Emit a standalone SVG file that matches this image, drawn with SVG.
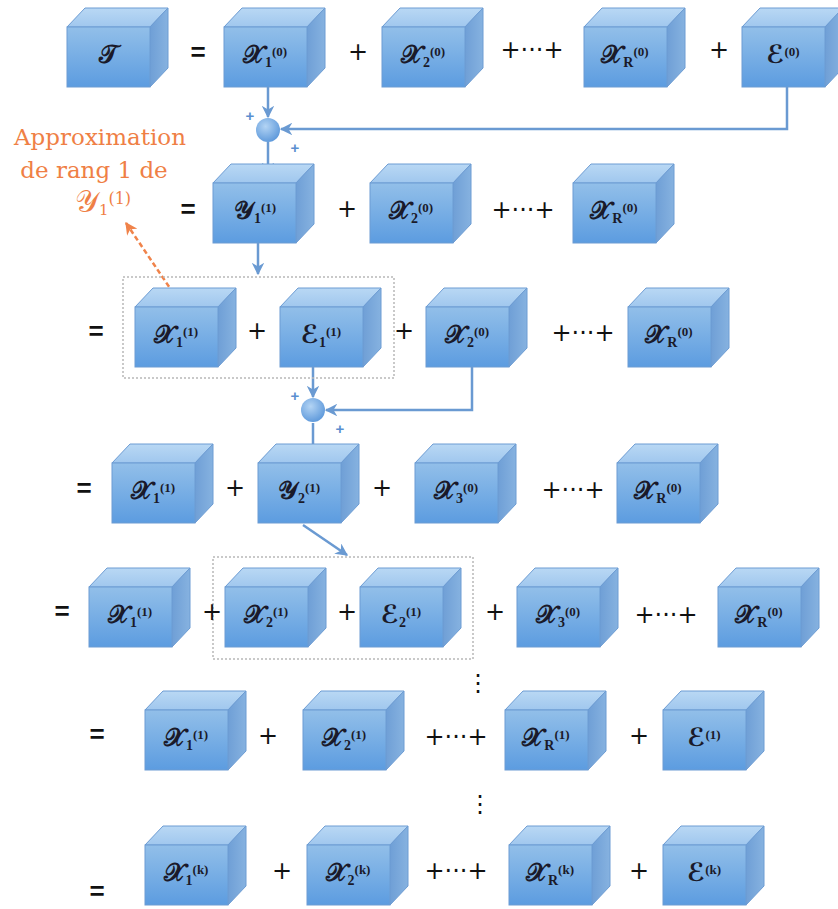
<svg xmlns="http://www.w3.org/2000/svg" xmlns:xlink="http://www.w3.org/1999/xlink" width="838" height="909" viewBox="0 0 838 909">
<defs>
<linearGradient id="gFront" x1="0" y1="0" x2="0" y2="1">
<stop offset="0" stop-color="#92bfe9"/><stop offset="1" stop-color="#5c9ce0"/>
</linearGradient>
<linearGradient id="gTop" x1="0" y1="0" x2="0" y2="1">
<stop offset="0" stop-color="#b9d8f4"/><stop offset="1" stop-color="#a0c7ee"/>
</linearGradient>
<linearGradient id="gSide" x1="0" y1="0" x2="1" y2="0">
<stop offset="0" stop-color="#6f9fd6"/><stop offset="1" stop-color="#86b2e0"/>
</linearGradient>
<radialGradient id="gJunc" cx="0.4" cy="0.35" r="0.7">
<stop offset="0" stop-color="#b3d4f4"/><stop offset="1" stop-color="#5b97da"/>
</radialGradient>
<g id="cube">
<polygon points="0,0 18,-19 101,-19 83,0" fill="url(#gTop)" stroke="#6d9cd3" stroke-width="1"/>
<polygon points="83,0 101,-19 101,41 83,60" fill="url(#gSide)" stroke="#6d9cd3" stroke-width="1"/>
<rect x="0" y="0" width="83" height="60" fill="url(#gFront)" stroke="#6d9cd3" stroke-width="1"/>
</g>
<marker id="arr" viewBox="0 0 10 10" refX="9" refY="5" markerWidth="5" markerHeight="5" orient="auto" markerUnits="strokeWidth">
<path d="M0,0 L10,5 L0,10 L3,5 Z" fill="#6a9ad2"/>
</marker>
<marker id="arrO" viewBox="0 0 10 10" refX="9" refY="5" markerWidth="5" markerHeight="5" orient="auto" markerUnits="strokeWidth">
<path d="M0,0 L10,5 L0,10 L3,5 Z" fill="#f0834a"/>
</marker>
</defs>
<style>
.lbl{font-family:"DejaVu Serif","DejaVu Sans",serif;font-size:25px;font-weight:bold;fill:#1a1a2a}
.sub{font-family:"Liberation Serif",serif;font-size:14px;font-weight:bold}
.sup{font-family:"Liberation Serif",serif;font-size:13px;font-weight:bold}
.op{font-family:"DejaVu Sans",sans-serif;font-size:24px;fill:#111}
.eq{font-family:"Liberation Sans",Arial,sans-serif;font-size:26px;font-weight:bold;fill:#111}
.jp{font-family:"Liberation Sans",Arial,sans-serif;font-size:15px;font-weight:bold;fill:#5b8fd0}
.con{fill:none;stroke:#6a9ad2;stroke-width:2.5}
.box{fill:none;stroke:#b8b8b8;stroke-width:1.5;stroke-dasharray:2 2}
.orange{font-family:"DejaVu Serif",serif;font-size:23px;fill:#ef7f45}
</style>

<!-- connectors -->
<g id="connectors">
<line class="con" x1="268" y1="86" x2="268" y2="117" marker-end="url(#arr)"/>
<polyline class="con" points="787,86 787,129 281,129" marker-end="url(#arr)"/>
<line class="con" x1="268" y1="142" x2="268" y2="174" marker-end="url(#arr)"/>
<line class="con" x1="258" y1="243" x2="258" y2="274" marker-end="url(#arr)"/>
<line x1="178" y1="300" x2="126" y2="223" fill="none" stroke="#f0834a" stroke-width="2.5" stroke-dasharray="5 3" marker-end="url(#arrO)"/>
<line class="con" x1="313" y1="367" x2="313" y2="397" marker-end="url(#arr)"/>
<polyline class="con" points="472,367 472,410 326,410" marker-end="url(#arr)"/>
<line class="con" x1="313" y1="423" x2="313" y2="455" marker-end="url(#arr)"/>
<line class="con" x1="303" y1="525" x2="347" y2="555" marker-end="url(#arr)"/>
<rect class="box" x="123" y="277" width="271" height="101"/>
<rect class="box" x="213" y="557" width="260" height="102"/>
</g>

<!-- junctions -->
<g id="junction1">
<circle cx="268" cy="130" r="12" fill="url(#gJunc)"/>
<text class="jp" x="250" y="115" text-anchor="middle" dominant-baseline="central">+</text>
<text class="jp" x="295" y="147" text-anchor="middle" dominant-baseline="central">+</text>
</g>
<g id="junction2">
<circle cx="313" cy="410" r="12" fill="url(#gJunc)"/>
<text class="jp" x="295" y="395" text-anchor="middle" dominant-baseline="central">+</text>
<text class="jp" x="340" y="428" text-anchor="middle" dominant-baseline="central">+</text>
</g>

<!-- annotation -->
<g id="annotation">
<text class="orange" x="100" y="145" text-anchor="middle">Approximation</text>
<text class="orange" x="94" y="178" text-anchor="middle">de rang 1 de</text>
<text class="orange" x="103" y="212" text-anchor="middle"><tspan font-size="30">𝒴</tspan><tspan font-size="15" dy="3">1</tspan><tspan font-size="16" dy="-11">(1)</tspan></text>
</g>

<!-- Row 1 -->
<g id="r1-T"><use xlink:href="#cube" x="67" y="27"/><text class="lbl" x="108" y="63" text-anchor="middle">𝒯</text></g>
<g id="r1-X1"><use xlink:href="#cube" x="224" y="27"/><text class="lbl" x="265" y="63" text-anchor="middle">𝒳<tspan class="sub" dy="4">1</tspan><tspan class="sup" dy="-11">(0)</tspan></text></g>
<g id="r1-X2"><use xlink:href="#cube" x="382" y="27"/><text class="lbl" x="423" y="63" text-anchor="middle">𝒳<tspan class="sub" dy="4">2</tspan><tspan class="sup" dy="-11">(0)</tspan></text></g>
<g id="r1-XR"><use xlink:href="#cube" x="584" y="27"/><text class="lbl" x="625" y="63" text-anchor="middle">𝒳<tspan class="sub" dy="4">R</tspan><tspan class="sup" dy="-11">(0)</tspan></text></g>
<g id="r1-E"><use xlink:href="#cube" x="742" y="27"/><text class="lbl" x="783" y="63" text-anchor="middle">ℰ<tspan class="sup" dy="-7">(0)</tspan></text></g>
<g id="r1-ops">
<text class="eq" x="198" y="52" text-anchor="middle" dominant-baseline="central">=</text>
<text class="op" x="358" y="52" text-anchor="middle" dominant-baseline="central">+</text>
<text class="op" x="532" y="50" text-anchor="middle" dominant-baseline="central">+···+</text>
<text class="op" x="719" y="50" text-anchor="middle" dominant-baseline="central">+</text>
</g>

<!-- Row 2 -->
<g id="r2-Y1"><use xlink:href="#cube" x="213" y="183"/><text class="lbl" x="255" y="219" text-anchor="middle">𝒴<tspan class="sub" dy="4">1</tspan><tspan class="sup" dy="-11">(1)</tspan></text></g>
<g id="r2-X2"><use xlink:href="#cube" x="370" y="183"/><text class="lbl" x="411" y="219" text-anchor="middle">𝒳<tspan class="sub" dy="4">2</tspan><tspan class="sup" dy="-11">(0)</tspan></text></g>
<g id="r2-XR"><use xlink:href="#cube" x="573" y="183"/><text class="lbl" x="614" y="219" text-anchor="middle">𝒳<tspan class="sub" dy="4">R</tspan><tspan class="sup" dy="-11">(0)</tspan></text></g>
<g id="r2-ops">
<text class="eq" x="188" y="209" text-anchor="middle" dominant-baseline="central">=</text>
<text class="op" x="347" y="209" text-anchor="middle" dominant-baseline="central">+</text>
<text class="op" x="523" y="210" text-anchor="middle" dominant-baseline="central">+···+</text>
</g>

<!-- Row 3 -->
<g id="r3-X1"><use xlink:href="#cube" x="135" y="307"/><text class="lbl" x="176" y="343" text-anchor="middle">𝒳<tspan class="sub" dy="4">1</tspan><tspan class="sup" dy="-11">(1)</tspan></text></g>
<g id="r3-E1"><use xlink:href="#cube" x="280" y="307"/><text class="lbl" x="321" y="343" text-anchor="middle">ℰ<tspan class="sub" dy="4">1</tspan><tspan class="sup" dy="-11">(1)</tspan></text></g>
<g id="r3-X2"><use xlink:href="#cube" x="426" y="307"/><text class="lbl" x="467" y="343" text-anchor="middle">𝒳<tspan class="sub" dy="4">2</tspan><tspan class="sup" dy="-11">(0)</tspan></text></g>
<g id="r3-XR"><use xlink:href="#cube" x="628" y="307"/><text class="lbl" x="669" y="343" text-anchor="middle">𝒳<tspan class="sub" dy="4">R</tspan><tspan class="sup" dy="-11">(0)</tspan></text></g>
<g id="r3-ops">
<text class="eq" x="96" y="331" text-anchor="middle" dominant-baseline="central">=</text>
<text class="op" x="257" y="331" text-anchor="middle" dominant-baseline="central">+</text>
<text class="op" x="404" y="331" text-anchor="middle" dominant-baseline="central">+</text>
<text class="op" x="583" y="333" text-anchor="middle" dominant-baseline="central">+···+</text>
</g>

<!-- Row 4 -->
<g id="r4-X1"><use xlink:href="#cube" x="112" y="463"/><text class="lbl" x="153" y="499" text-anchor="middle">𝒳<tspan class="sub" dy="4">1</tspan><tspan class="sup" dy="-11">(1)</tspan></text></g>
<g id="r4-Y2"><use xlink:href="#cube" x="258" y="463"/><text class="lbl" x="299" y="499" text-anchor="middle">𝒴<tspan class="sub" dy="4">2</tspan><tspan class="sup" dy="-11">(1)</tspan></text></g>
<g id="r4-X3"><use xlink:href="#cube" x="415" y="463"/><text class="lbl" x="456" y="499" text-anchor="middle">𝒳<tspan class="sub" dy="4">3</tspan><tspan class="sup" dy="-11">(0)</tspan></text></g>
<g id="r4-XR"><use xlink:href="#cube" x="617" y="463"/><text class="lbl" x="658" y="499" text-anchor="middle">𝒳<tspan class="sub" dy="4">R</tspan><tspan class="sup" dy="-11">(0)</tspan></text></g>
<g id="r4-ops">
<text class="eq" x="84" y="488" text-anchor="middle" dominant-baseline="central">=</text>
<text class="op" x="235" y="488" text-anchor="middle" dominant-baseline="central">+</text>
<text class="op" x="382" y="488" text-anchor="middle" dominant-baseline="central">+</text>
<text class="op" x="573" y="490" text-anchor="middle" dominant-baseline="central">+···+</text>
</g>

<!-- Row 5 -->
<g id="r5-X1"><use xlink:href="#cube" x="89" y="587"/><text class="lbl" x="130" y="623" text-anchor="middle">𝒳<tspan class="sub" dy="4">1</tspan><tspan class="sup" dy="-11">(1)</tspan></text></g>
<g id="r5-X2"><use xlink:href="#cube" x="225" y="587"/><text class="lbl" x="266" y="623" text-anchor="middle">𝒳<tspan class="sub" dy="4">2</tspan><tspan class="sup" dy="-11">(1)</tspan></text></g>
<g id="r5-E2"><use xlink:href="#cube" x="360" y="587"/><text class="lbl" x="401" y="623" text-anchor="middle">ℰ<tspan class="sub" dy="4">2</tspan><tspan class="sup" dy="-11">(1)</tspan></text></g>
<g id="r5-X3"><use xlink:href="#cube" x="517" y="587"/><text class="lbl" x="558" y="623" text-anchor="middle">𝒳<tspan class="sub" dy="4">3</tspan><tspan class="sup" dy="-11">(0)</tspan></text></g>
<g id="r5-XR"><use xlink:href="#cube" x="718" y="587"/><text class="lbl" x="759" y="623" text-anchor="middle">𝒳<tspan class="sub" dy="4">R</tspan><tspan class="sup" dy="-11">(0)</tspan></text></g>
<g id="r5-ops">
<text class="eq" x="62" y="611" text-anchor="middle" dominant-baseline="central">=</text>
<text class="op" x="212" y="612" text-anchor="middle" dominant-baseline="central">+</text>
<text class="op" x="347" y="612" text-anchor="middle" dominant-baseline="central">+</text>
<text class="op" x="495" y="612" text-anchor="middle" dominant-baseline="central">+</text>
<text class="op" x="666" y="615" text-anchor="middle" dominant-baseline="central">+···+</text>
<text class="op" x="478" y="683" text-anchor="middle" dominant-baseline="central">⋮</text>
</g>

<!-- Row 6 -->
<g id="r6-X1"><use xlink:href="#cube" x="145" y="710"/><text class="lbl" x="186" y="746" text-anchor="middle">𝒳<tspan class="sub" dy="4">1</tspan><tspan class="sup" dy="-11">(1)</tspan></text></g>
<g id="r6-X2"><use xlink:href="#cube" x="303" y="710"/><text class="lbl" x="344" y="746" text-anchor="middle">𝒳<tspan class="sub" dy="4">2</tspan><tspan class="sup" dy="-11">(1)</tspan></text></g>
<g id="r6-XR"><use xlink:href="#cube" x="505" y="710"/><text class="lbl" x="546" y="746" text-anchor="middle">𝒳<tspan class="sub" dy="4">R</tspan><tspan class="sup" dy="-11">(1)</tspan></text></g>
<g id="r6-E"><use xlink:href="#cube" x="663" y="710"/><text class="lbl" x="704" y="746" text-anchor="middle">ℰ<tspan class="sup" dy="-7">(1)</tspan></text></g>
<g id="r6-ops">
<text class="eq" x="97" y="734" text-anchor="middle" dominant-baseline="central">=</text>
<text class="op" x="268" y="736" text-anchor="middle" dominant-baseline="central">+</text>
<text class="op" x="456" y="737" text-anchor="middle" dominant-baseline="central">+···+</text>
<text class="op" x="639" y="736" text-anchor="middle" dominant-baseline="central">+</text>
<text class="op" x="480" y="804" text-anchor="middle" dominant-baseline="central">⋮</text>
</g>

<!-- Row 7 -->
<g id="r7-X1"><use xlink:href="#cube" x="145" y="845"/><text class="lbl" x="186" y="881" text-anchor="middle">𝒳<tspan class="sub" dy="4">1</tspan><tspan class="sup" dy="-11">(k)</tspan></text></g>
<g id="r7-X2"><use xlink:href="#cube" x="307" y="845"/><text class="lbl" x="348" y="881" text-anchor="middle">𝒳<tspan class="sub" dy="4">2</tspan><tspan class="sup" dy="-11">(k)</tspan></text></g>
<g id="r7-XR"><use xlink:href="#cube" x="509" y="845"/><text class="lbl" x="550" y="881" text-anchor="middle">𝒳<tspan class="sub" dy="4">R</tspan><tspan class="sup" dy="-11">(k)</tspan></text></g>
<g id="r7-E"><use xlink:href="#cube" x="663" y="845"/><text class="lbl" x="704" y="881" text-anchor="middle">ℰ<tspan class="sup" dy="-7">(k)</tspan></text></g>
<g id="r7-ops">
<text class="eq" x="97" y="891" text-anchor="middle" dominant-baseline="central">=</text>
<text class="op" x="282" y="871" text-anchor="middle" dominant-baseline="central">+</text>
<text class="op" x="456" y="871" text-anchor="middle" dominant-baseline="central">+···+</text>
<text class="op" x="639" y="871" text-anchor="middle" dominant-baseline="central">+</text>
</g>
</svg>
